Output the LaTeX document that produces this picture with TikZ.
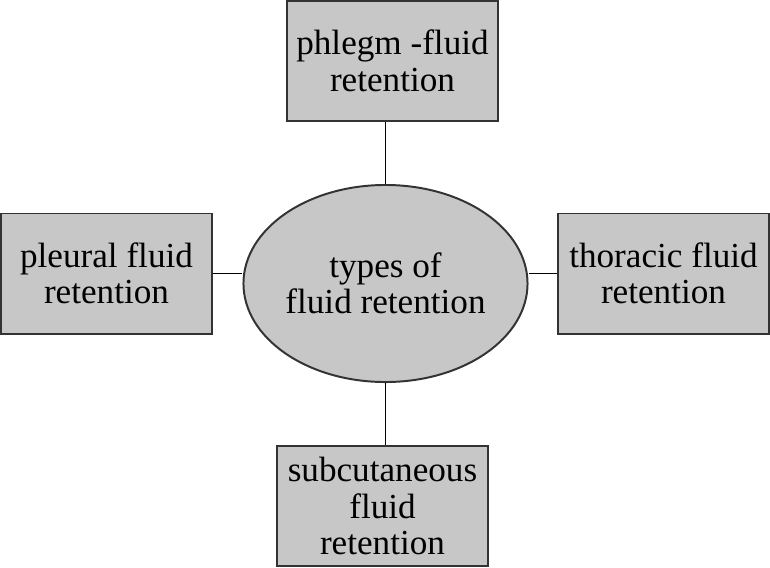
\documentclass[tikz,border=0pt]{standalone}
\usepackage{fontspec}
\setmainfont{LiberationSerif}[Extension=.ttf,UprightFont=*-Regular,BoldFont=*-Bold]
\usepackage{tikz}
\usetikzlibrary{positioning,shapes.geometric}
\definecolor{boxgray}{gray}{0.78}
\definecolor{edgegray}{gray}{0.2}
\tikzset{
  kind/.style={draw=edgegray,line width=1.4pt,fill=boxgray,align=center,
    minimum width=5.275cm,minimum height=3cm,inner sep=2pt,
    font=\rmfamily\fontsize{25}{26}\selectfont},
  centre/.style={ellipse,draw=edgegray,line width=1.4pt,fill=boxgray,align=center,
    minimum width=7.1cm,minimum height=4.925cm,inner sep=0pt,
    font=\rmfamily\fontsize{25}{26}\selectfont},
  link/.style={line width=1.1pt,black}
}
\begin{document}
\begin{tikzpicture}[x=0.025cm,y=-0.025cm]
  \useasboundingbox (0,0) rectangle (770,567);

  % centre ellipse
  \node[centre] (types) at (385.5,283.5) {types of\\fluid retention};

  % the four kinds
  \node[kind] (phlegm) at (392.5,61) {phlegm -fluid\\retention};
  \node[kind] (pleural) at (106.5,273.5) {pleural fluid\\retention};
  \node[kind] (thoracic) at (663.5,273.5) {thoracic fluid\\retention};
  \node[kind] (subcut) at (382.5,506) {subcutaneous\\fluid\\retention};

  % links
  \draw[link] (types.north) -- (types.north |- phlegm.south);
  \draw[link] (pleural.east) -- (pleural.east -| types.west);
  \draw[link] (thoracic.west) -- (thoracic.west -| types.east);
  \draw[link] (types.south) -- (types.south |- subcut.north);
\end{tikzpicture}
\end{document}
